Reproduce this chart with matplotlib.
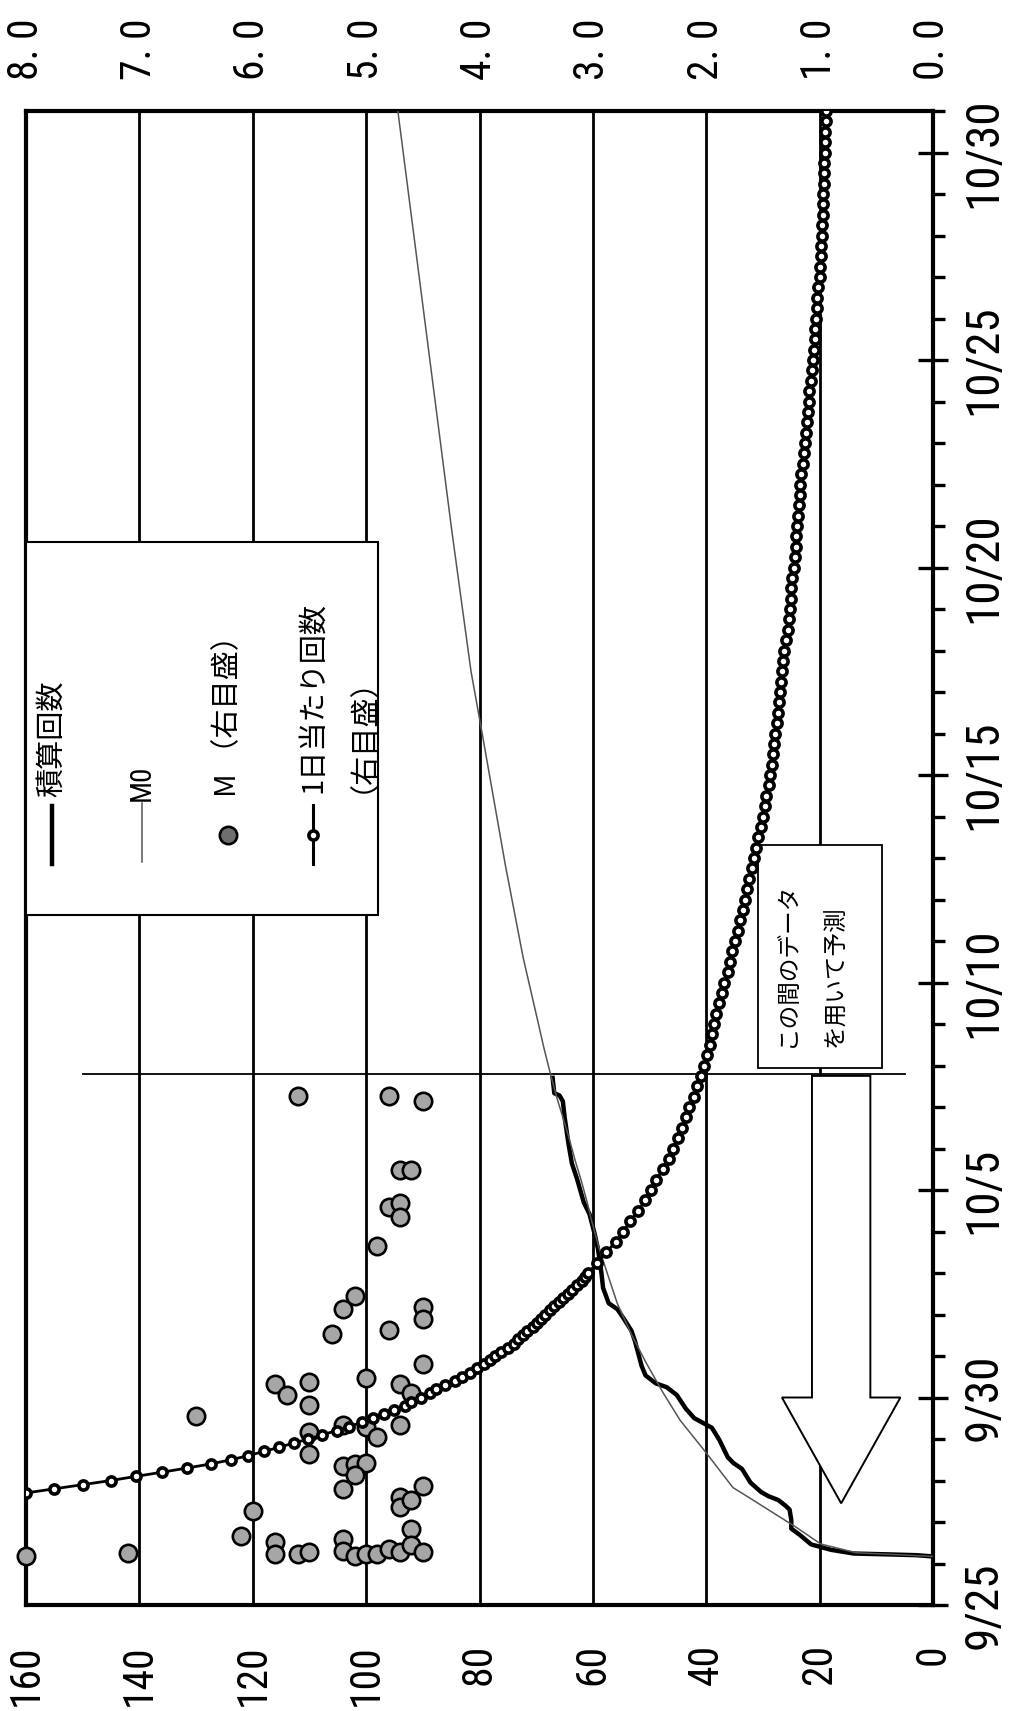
import matplotlib
matplotlib.use("Agg")
import matplotlib.pyplot as plt
from matplotlib import font_manager
from matplotlib.patches import Rectangle, FancyArrow
from matplotlib.lines import Line2D

W, H = 1011, 1711

# left scale (counts), right scale (M / per-day) and date axis (days after 9/25)
left_ticks = [0, 20, 40, 60, 80, 100, 120, 140, 160]
left_labels = ["0", "20", "40", "60", "80", "100", "120", "140", "160"]
right_ticks = [0, 1, 2, 3, 4, 5, 6, 7, 8]
right_labels = ["0. 0", "1. 0", "2. 0", "3. 0", "4. 0", "5. 0", "6. 0", "7. 0", "8. 0"]
date_pos = [0, 5, 10, 15, 20, 25, 30, 35]
date_labels = ["9/25", "9/30", "10/5", "10/10", "10/15", "10/20", "10/25", "10/30"]

# 積算回数 (cumulative count, left scale)
cum_day = [1.17, 1.20, 1.22, 1.24, 1.33, 1.46, 1.69, 1.84, 2.05, 2.30, 2.39, 2.53, 2.62,
           2.72, 2.95, 3.28, 3.42, 3.56, 3.98, 4.27, 4.36, 4.50, 4.73, 5.06, 5.25, 5.34,
           5.53, 5.76, 6.37, 6.61, 6.89, 7.13, 7.27, 7.64, 8.01, 8.58, 8.95, 9.42, 9.70,
           10.27, 10.64, 11.11, 11.77, 12.14, 12.28, 12.33, 12.70]
cum_val = [0.0, 2.9, 8.0, 14.0, 18.0, 21.5, 23.5, 25.0, 25.0, 25.3, 26.0, 27.3, 29.0,
           30.3, 32.2, 33.7, 35.2, 36.2, 37.7, 39.0, 40.2, 42.1, 43.6, 45.2, 47.0, 48.9,
           50.7, 51.4, 52.6, 53.2, 54.5, 55.7, 57.2, 58.2, 58.5, 59.1, 59.7, 60.6, 61.6,
           62.8, 63.7, 64.3, 65.0, 65.3, 65.9, 66.8, 67.1]

# M0 (left scale)
m0_day = [1.17, 1.21, 1.26, 1.47, 1.87, 2.30, 2.67, 2.83, 3.70, 4.45, 5.11, 5.86, 6.52,
          7.27, 8.01, 8.6, 9.3, 9.7, 10.2, 10.7, 11.3, 11.8, 12.2, 12.7, 13.4, 14.0,
          15.6, 17.8, 20.9, 22.5, 25.9, 29.3, 32.6, 36.0]
m0_val = [0.0, 6.0, 13.6, 19.8, 24.1, 29.1, 33.4, 35.3, 40.2, 44.6, 47.6, 50.7, 53.2,
          55.7, 57.5, 58.9, 60.3, 61.0, 62.0, 63.1, 64.3, 65.4, 66.3, 67.3, 68.6, 69.6,
          72.3, 75.4, 79.4, 81.5, 84.9, 88.1, 91.2, 94.4]

# M (right scale)
m_day = [1.19, 1.25, 4.55, 1.66, 2.27, 1.51, 1.23, 1.23, 1.27, 12.27, 5.33, 5.07, 5.37,
         4.81, 4.16, 3.65, 6.54, 7.14, 7.44, 8.65, 12.27, 12.14, 10.48, 10.48, 9.60, 9.69,
         9.34, 6.62, 7.19, 6.88, 5.81, 5.46, 5.33, 5.11, 4.33, 4.29, 4.04, 4.33, 3.35,
         3.39, 3.43, 3.13, 2.79, 2.87, 2.61, 2.35, 2.52, 1.83, 1.58, 1.31, 1.19, 1.23,
         1.23, 1.36, 1.27, 1.44, 1.27]
m_mag = [8.0, 7.1, 6.5, 6.1, 6.0, 5.8, 5.8, 5.6, 5.5, 5.6, 5.8, 5.7, 5.5,
         5.5, 5.5, 5.5, 5.3, 5.2, 5.1, 4.9, 4.8, 4.5, 4.7, 4.6, 4.8, 4.7,
         4.7, 4.8, 4.5, 4.5, 4.5, 5.0, 4.7, 4.6, 5.2, 5.0, 4.9, 4.7, 5.2,
         5.1, 5.0, 5.1, 5.2, 4.5, 4.7, 4.7, 4.6, 4.6, 5.2, 5.2, 5.1, 5.0,
         4.9, 4.8, 4.7, 4.6, 4.5]

# 1日当たり回数 (right scale)
rate_day = [2.6, 2.7, 2.8, 2.9, 3.0, 3.1, 3.2, 3.3, 3.4, 3.5, 3.6, 3.7, 3.8, 3.9,
            4.0, 4.1, 4.2, 4.3, 4.4, 4.5, 4.6, 4.7, 4.8, 4.9, 5.0, 5.1, 5.2, 5.3,
            5.4, 5.5, 5.6, 5.7, 5.8, 5.9, 6.0, 6.1, 6.2, 6.3, 6.4, 6.5, 6.6, 6.7,
            6.8, 6.9, 7.0, 7.1, 7.2, 7.3, 7.4, 7.5, 7.6, 7.7, 7.8, 7.9, 8.0,
            8.25, 8.5, 8.75, 9.0, 9.25, 9.5, 9.75, 10.0, 10.25, 10.5, 10.75, 11.0,
            11.25, 11.5, 11.75, 12.0, 12.25, 12.5, 12.75, 13.0, 13.25, 13.5, 13.75,
            14.0, 14.25, 14.5, 14.75, 15.0, 15.25, 15.5, 15.75, 16.0, 16.25, 16.5,
            16.75, 17.0, 17.25, 17.5, 17.75, 18.0, 18.25, 18.5, 18.75, 19.0, 19.25,
            19.5, 19.75, 20.0, 20.25, 20.5, 20.75, 21.0, 21.25, 21.5, 21.75, 22.0,
            22.25, 22.5, 22.75, 23.0, 23.25, 23.5, 23.75, 24.0, 24.25, 24.5, 24.75,
            25.0, 25.25, 25.5, 25.75, 26.0, 26.25, 26.5, 26.75, 27.0, 27.25, 27.5,
            27.75, 28.0, 28.25, 28.5, 28.75, 29.0, 29.25, 29.5, 29.75, 30.0, 30.25,
            30.5, 30.75, 31.0, 31.25, 31.5, 31.75, 32.0, 32.25, 32.5, 32.75, 33.0,
            33.25, 33.5, 33.75, 34.0, 34.25, 34.5, 34.75, 35.0, 35.25, 35.5, 35.75, 36.0]
rate_val = [8.28, 8.00, 7.75, 7.50, 7.25, 7.03, 6.80, 6.58, 6.37, 6.19, 6.04, 5.90, 5.77, 5.64,
            5.51, 5.39, 5.26, 5.15, 5.04, 4.94, 4.84, 4.75, 4.66, 4.60, 4.52, 4.44, 4.38, 4.30,
            4.22, 4.15, 4.08, 4.02, 3.96, 3.91, 3.86, 3.81, 3.75, 3.70, 3.66, 3.62, 3.58, 3.53,
            3.49, 3.46, 3.42, 3.38, 3.34, 3.30, 3.26, 3.22, 3.18, 3.14, 3.10, 3.07, 3.04,
            2.96, 2.88, 2.80, 2.73, 2.67, 2.60, 2.54, 2.49, 2.44, 2.38, 2.33, 2.29,
            2.25, 2.21, 2.18, 2.15, 2.11, 2.08, 2.05, 2.02, 1.99, 1.97, 1.95,
            1.93, 1.91, 1.89, 1.86, 1.84, 1.81, 1.79, 1.77, 1.75, 1.72, 1.70,
            1.68, 1.66, 1.64, 1.62, 1.60, 1.58, 1.56, 1.54, 1.52, 1.50, 1.48,
            1.47, 1.45, 1.44, 1.42, 1.41, 1.40, 1.39, 1.38, 1.37, 1.36, 1.35,
            1.34, 1.33, 1.32, 1.31, 1.30, 1.28, 1.27, 1.26, 1.25, 1.25, 1.24,
            1.23, 1.22, 1.21, 1.21, 1.20, 1.19, 1.18, 1.17, 1.17, 1.16, 1.15,
            1.14, 1.13, 1.12, 1.11, 1.10, 1.09, 1.09, 1.08, 1.07, 1.06, 1.05,
            1.04, 1.04, 1.03, 1.02, 1.02, 1.01, 1.00, 1.00, 0.99, 0.99, 0.98,
            0.98, 0.97, 0.97, 0.97, 0.96, 0.96, 0.96, 0.95, 0.95, 0.95, 0.94, 0.94]

# end of the data window used for the fit
cutoff_day = 12.8
cutoff_span = (5, 150)


def narrow_font():
    # look for a condensed sans for the tick numbers
    for fam in ["Liberation Sans Narrow", "Roboto Condensed", "Arial Narrow"]:
        try:
            path = font_manager.findfont(font_manager.FontProperties(family=fam),
                                         fallback_to_default=False)
        except ValueError:
            continue
        if "narrow" in path.lower() or "condensed" in path.lower():
            return fam, 1.0
    return "Liberation Sans", 0.86


NUM, k = narrow_font()
JP = ["Noto Sans CJK JP", "DejaVu Sans"]


def fx(px):
    return px / W


def fy(px):
    return 1 - px / H


fig = plt.figure(figsize=(W / 100, H / 100), dpi=100)
ax = fig.add_axes([fx(26), fy(1605), (933 - 26) / W, (1605 - 111) / H])
ax.set_xlim(160, 0)
ax.set_ylim(0, 36)

for s in ax.spines.values():
    s.set_linewidth(3.0)
    s.set_color("black")

ax.set_axisbelow(True)
ax.grid(axis="x", color="black", linewidth=2.0)
ax.grid(axis="y", visible=False)

ax.set_xticks(left_ticks)
ax.set_xticklabels(left_labels, rotation=90, fontsize=30 * k, family=NUM)
ax.tick_params(axis="x", length=0, pad=28)

ax.yaxis.tick_right()
ax.set_yticks(date_pos)
ax.set_yticklabels(date_labels, rotation=90, fontsize=34 * k, family=NUM, va="center")
ax.set_yticks(range(37), minor=True)
ax.tick_params(axis="y", which="major", direction="inout", length=21, width=2.4, pad=10,
               left=False, right=True, labelleft=False, labelright=True)
ax.tick_params(axis="y", which="minor", direction="out", length=8.6, width=2.4,
               left=False, right=True)

ax.plot(cum_val, cum_day, color="black", lw=3.2, zorder=3)
ax.plot(m0_val, m0_day, color="#555555", lw=1.1, zorder=4)
ax.plot(cutoff_span, [cutoff_day, cutoff_day], color="black", lw=1.3, zorder=2)

# annotation box + arrow
ax.add_patch(Rectangle((9.0, 12.94), 21.8, 5.37, facecolor="white", edgecolor="black",
                       lw=1.3, zorder=5))
ax.text(25.7, 13.45, "この間のデータ", rotation=90, ha="center", va="bottom",
        fontsize=17, family=JP, zorder=6)
ax.text(17.2, 13.45, "を用いて予測", rotation=90, ha="center", va="bottom",
        fontsize=17, family=JP, zorder=6)
ax.add_patch(FancyArrow(16.2, 12.75, 0, -10.3, width=10.3, head_width=20.9, head_length=2.55,
                        length_includes_head=True, facecolor="white", edgecolor="black",
                        lw=1.4, zorder=5))

# right scale
ax2 = ax.twiny()
ax2.set_xlim(8, 0)
for s in ax2.spines.values():
    s.set_visible(False)
ax2.set_xticks(right_ticks)
ax2.set_xticklabels(right_labels, rotation=90, fontsize=30 * k, family=NUM)
ax2.tick_params(axis="x", length=0, pad=22)

ax2.plot(m_mag, m_day, "o", ms=12.5, mfc="#a6a6a6", mec="black", mew=1.9,
         zorder=3, clip_on=False)
ax2.plot(rate_val, rate_day, "-o", color="black", lw=2.0, ms=6.6, mfc="white",
         mec="black", mew=2.6, zorder=4)

# legend (drawn rotated like the rest of the chart)
fig.add_artist(Rectangle((fx(26), fy(915)), (378 - 26) / W, (915 - 542) / H,
                         transform=fig.transFigure, facecolor="white", edgecolor="black",
                         lw=1.5, zorder=1))
fig.add_artist(Line2D([fx(52), fx(52)], [fy(806), fy(864)], color="black", lw=3.2, zorder=2))
fig.add_artist(Line2D([fx(142), fx(142)], [fy(803), fy(862)], color="#555555", lw=1.1, zorder=2))
fig.add_artist(Line2D([fx(228)], [fy(835)], marker="o", ls="none", ms=12.5, mfc="#6e6e6e",
                      mec="black", mew=1.9, zorder=2))
fig.add_artist(Line2D([fx(313), fx(313)], [fy(805), fy(864)], color="black", lw=2.2, zorder=2))
fig.add_artist(Line2D([fx(313)], [fy(835)], marker="o", ls="none", ms=6.6, mfc="white",
                      mec="black", mew=2.6, zorder=3))

fig.text(fx(52), fy(797), "積算回数", rotation=90, ha="center", va="bottom", fontsize=21, family=JP)
fig.text(fx(142), fy(801), "M0", rotation=90, ha="center", va="bottom", fontsize=21 * k, family=NUM)
fig.text(fx(228), fy(797), "M （右目盛）", rotation=90, ha="center", va="bottom", fontsize=21, family=JP)
fig.text(fx(313), fy(793), "1日当たり回数", rotation=90, ha="center", va="bottom", fontsize=21, family=JP)
fig.text(fx(348), fy(793), "（右目盛）", rotation=90, ha="center", va="bottom", fontsize=21, family=JP)

fig.savefig("out.png", dpi=100)
plt.close(fig)
